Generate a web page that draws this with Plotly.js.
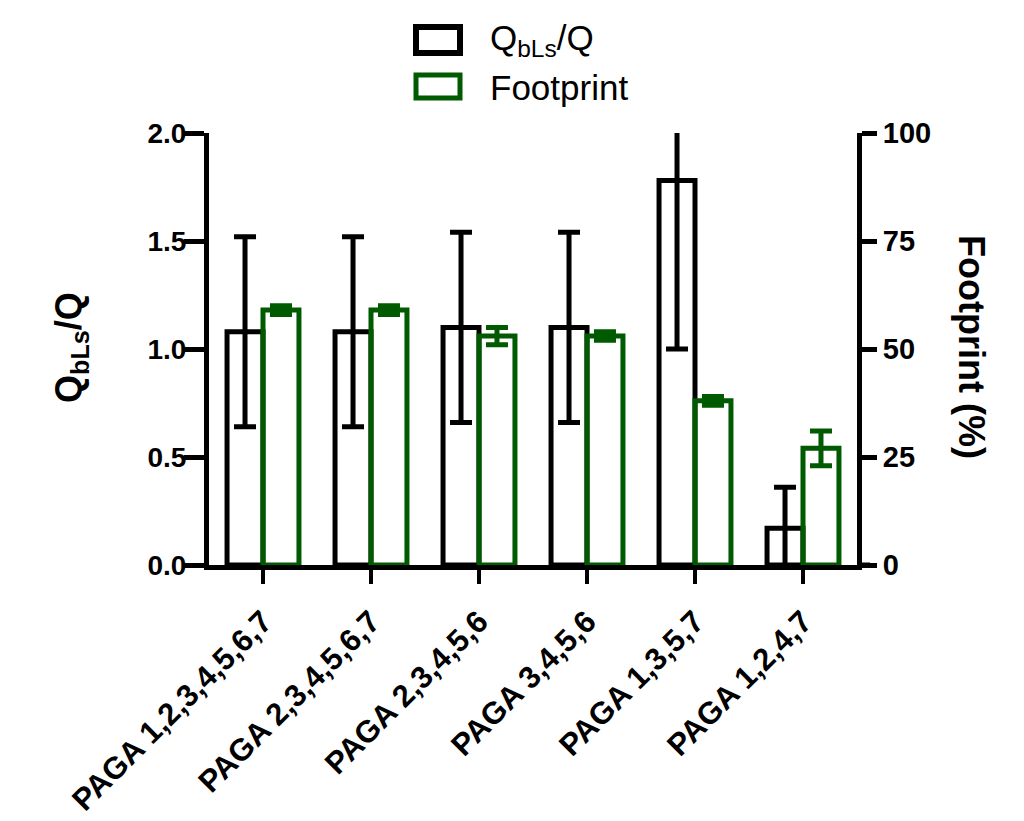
<!DOCTYPE html>
<html>
<head>
<meta charset="utf-8">
<script src="https://cdn.plot.ly/plotly-3.0.1.min.js"></script>
<style>html,body{margin:0;padding:0;background:#fff;}#chart{width:1024px;height:821px;}</style>
</head>
<body>
<div id="chart"></div>
<script>
const categories = ['PAGA 1,2,3,4,5,6,7','PAGA 2,3,4,5,6,7','PAGA 2,3,4,5,6','PAGA 3,4,5,6','PAGA 1,3,5,7','PAGA 1,2,4,7'];
const qbls = [1.08, 1.08, 1.10, 1.10, 1.78, 0.17];
const qblsErr = [0.44, 0.44, 0.44, 0.44, 0.78, 0.19];
const footprint = [59, 59, 53, 53, 38, 27];
const footprintErr = [1, 1, 2, 1, 1, 4];
const leftTicks = [0, 0.5, 1.0, 1.5, 2.0];
const leftTickText = ['0.0', '0.5', '1.0', '1.5', '2.0'];
const rightTicks = [0, 25, 50, 75, 100];
const rightTickText = ['0', '25', '50', '75', '100'];

const BLACK = '#000000';
const GREEN = '#005a00';
const FONT = 'Liberation Sans, Arial, Helvetica, sans-serif';

const W = 1024, H = 821;
const L = 209, R = 857, T = 133, B = 565;
const px = x => (x - L) / (R - L);
const py = y => (B - y) / (B - T);

const traces = [
  {
    type: 'bar', x: categories, y: qbls, yaxis: 'y',
    width: 0.333, offset: -0.333,
    marker: {color: 'rgba(255,255,255,0)', line: {color: BLACK, width: 5}},
    error_y: {type: 'data', array: qblsErr, visible: true, color: BLACK, thickness: 5, width: 11},
    showlegend: false, hoverinfo: 'skip'
  },
  {
    type: 'bar', x: categories, y: footprint, yaxis: 'y2',
    width: 0.333, offset: 0,
    marker: {color: 'rgba(255,255,255,0)', line: {color: GREEN, width: 5}},
    error_y: {type: 'data', array: footprintErr, visible: true, color: GREEN, thickness: 5, width: 11},
    showlegend: false, hoverinfo: 'skip'
  }
];

const layout = {
  width: W, height: H,
  margin: {l: L, r: W - R, t: T, b: H - B, pad: 0},
  paper_bgcolor: '#fff', plot_bgcolor: '#fff',
  showlegend: false,
  font: {family: FONT, color: BLACK},
  xaxis: {
    type: 'category', range: [-0.5, 5.5],
    showline: true, linecolor: BLACK, linewidth: 5,
    ticks: 'outside', ticklen: 14, tickwidth: 4, tickcolor: BLACK,
    tickangle: -45, showgrid: false, zeroline: false,
    ticklabelstandoff: 7,
    tickfont: {family: FONT, size: 31, weight: 700, color: BLACK}
  },
  yaxis: {
    range: [0, 2.0], tickvals: leftTicks, ticktext: leftTickText,
    showline: true, linecolor: BLACK, linewidth: 5,
    ticks: 'outside', ticklen: 20, tickwidth: 5, tickcolor: BLACK,
    showgrid: false, zeroline: false,
    ticklabelstandoff: -8,
    tickfont: {family: FONT, size: 28, weight: 700, color: BLACK}
  },
  yaxis2: {
    range: [0, 100], tickvals: rightTicks, ticktext: rightTickText,
    overlaying: 'y', side: 'right',
    showline: true, linecolor: BLACK, linewidth: 5,
    ticks: 'outside', ticklen: 15, tickwidth: 5, tickcolor: BLACK,
    showgrid: false, zeroline: false,
    tickfont: {family: FONT, size: 29, weight: 700, color: BLACK}
  },
  shapes: [
    {type: 'line', xref: 'paper', yref: 'paper', x0: 1, x1: px(870), y0: 0, y1: 0, line: {color: BLACK, width: 5}},
    {type: 'rect', xref: 'paper', yref: 'paper', x0: px(416), x1: px(460), y0: py(27), y1: py(53), line: {color: BLACK, width: 6}, fillcolor: 'rgba(0,0,0,0)'},
    {type: 'rect', xref: 'paper', yref: 'paper', x0: px(416), x1: px(460), y0: py(75), y1: py(98), line: {color: GREEN, width: 5}, fillcolor: 'rgba(0,0,0,0)'}
  ],
  annotations: [
    {xref: 'paper', yref: 'paper', x: px(488), y: py(40), xanchor: 'left', yanchor: 'middle', showarrow: false,
     text: 'Q<sub>bLs</sub>/Q', font: {family: FONT, size: 35, color: BLACK}},
    {xref: 'paper', yref: 'paper', x: px(488), y: py(87), xanchor: 'left', yanchor: 'middle', showarrow: false,
     text: 'Footprint', font: {family: FONT, size: 35, color: BLACK}},
    {xref: 'paper', yref: 'paper', x: px(71), y: py(348), xanchor: 'center', yanchor: 'middle', showarrow: false,
     textangle: -90, text: '<b>Q<sub>bLs</sub>/Q</b>', font: {family: FONT, size: 36, color: BLACK}},
    {xref: 'paper', yref: 'paper', x: px(972), y: py(347), xanchor: 'center', yanchor: 'middle', showarrow: false,
     textangle: 90, text: '<b>Footprint (%)</b>', font: {family: FONT, size: 36, color: BLACK}}
  ]
};

Plotly.newPlot('chart', traces, layout, {staticPlot: true, displayModeBar: false});
</script>
</body>
</html>
